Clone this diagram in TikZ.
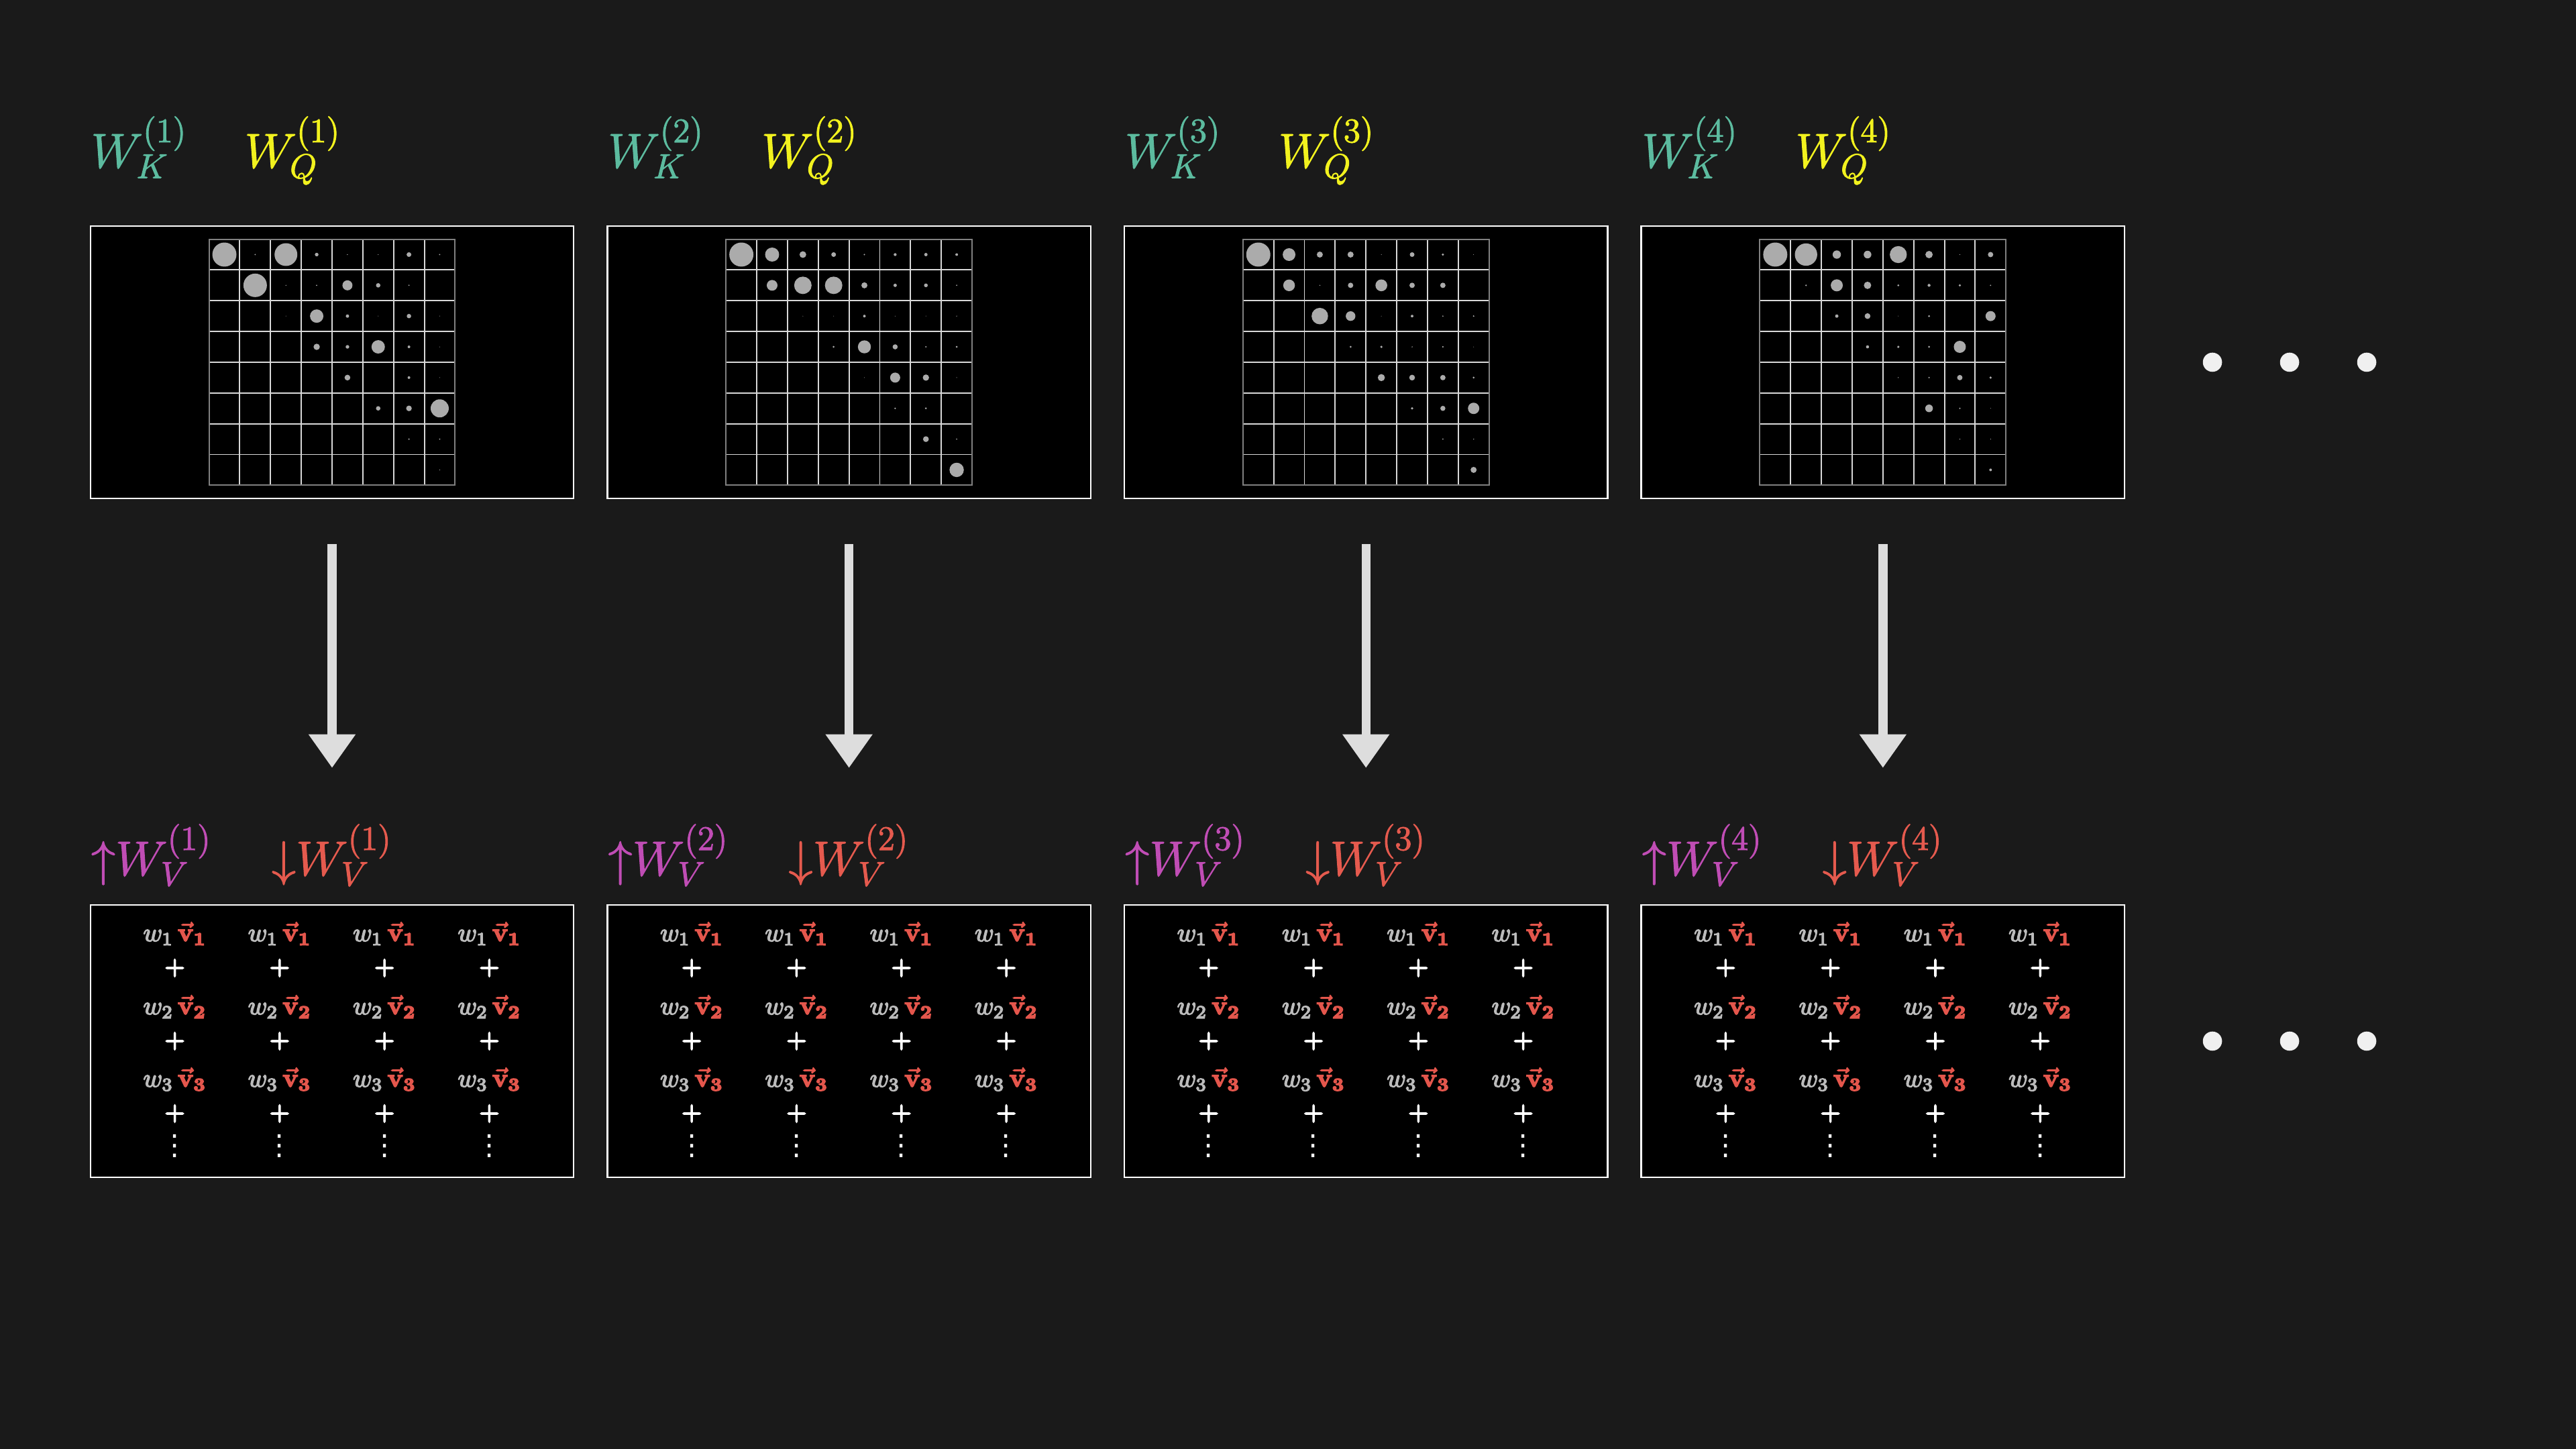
\RequirePackage{fix-cm}
\documentclass[tikz,border=0pt]{standalone}
\usepackage[no-math]{fontspec}
\newfontfamily\djv{DejaVu Sans}
\usetikzlibrary{arrows.meta}
\definecolor{bg}{HTML}{1A1A1A}
\definecolor{tealc}{HTML}{5CBB9F}
\definecolor{yellowc}{HTML}{F2F21E}
\definecolor{pinkc}{HTML}{C04DB5}
\definecolor{redc}{HTML}{E55A4E}
\definecolor{wgray}{HTML}{BBBBBB}
\definecolor{vred}{HTML}{E4564C}
\definecolor{gridlight}{HTML}{D8D8D8}
\definecolor{griddark}{HTML}{808080}
\definecolor{dotcol}{HTML}{ABABAB}
\definecolor{arrowcol}{HTML}{DDDDDD}
\definecolor{dotwhite}{HTML}{F0F0F0}
\newcommand\stk[2]{\special{pdf:code 2 Tr #1 w}#2\special{pdf:code 0 Tr}}
\tikzset{
  panel/.style={draw=white, fill=black, line width=0.7pt, minimum width=7.205cm, minimum height=4.06cm, inner sep=0pt},
  biglabel/.style={anchor=base west, inner sep=0pt, font=\fontsize{20.8}{25}\selectfont},
  wterm/.style={anchor=base, inner sep=0pt, font=\fontsize{11}{13}\selectfont},
  plusterm/.style={anchor=center, inner sep=0pt, text=white, font=\fontsize{9.5}{11}\selectfont\boldmath},
  vdterm/.style={anchor=center, inner sep=0pt, text=white, font=\djv\fontsize{12}{14}\selectfont},
  gridin/.style={draw=gridlight, line width=0.55pt},
  gridout/.style={draw=griddark, line width=0.6pt},
  bigarrow/.style={draw=arrowcol, line width=3.8pt, -{Triangle[width=6.67mm,length=5mm]}, shorten <=6.7mm, shorten >=20.3mm},
  moredot/.style={fill=dotwhite}
}
\newcommand\mydotgrid[2]{%
  \begin{scope}[shift={(#1.center)}]
    \foreach \t in {1,...,7}{
      \draw[gridin] ({-1.834+\t*0.4585},-1.834) -- ++(0,3.668);
      \draw[gridin] (-1.834,{-1.834+\t*0.4585}) -- ++(3.668,0);
    }
    \draw[gridout] (-1.834,-1.834) rectangle (1.834,1.834);
    \foreach \c/\r/\rad in {#2}{
      \fill[dotcol] ({(\c-4.5)*0.4585},{(4.5-\r)*0.4585}) circle[radius={\rad*0.01}];
    }
  \end{scope}}
\begin{document}
\begin{tikzpicture}
\fill[bg] (0,0) rectangle (38.4,21.6);
\useasboundingbox (0,0) rectangle (38.4,21.6);

\foreach \i in {1,...,4}{
  \pgfmathsetmacro\cx{4.95+(\i-1)*7.706}
  \node[panel] (k\i) at (\cx,16.2) {};
  \node[panel] (v\i) at (\cx,6.08) {};
  \node[biglabel, text=tealc] (lk\i) at ({\cx-3.6},19.10) {\stk{0.3}{$W_K^{(\i)}$}};
  \node[biglabel, text=yellowc] (lq\i) at ({\cx-3.6+2.29},19.10) {\stk{0.3}{$W_Q^{(\i)}$}};
  \node[biglabel, text=pinkc] (lu\i) at ({\cx-3.6},8.55) {\stk{0.3}{$\mathord{\uparrow}W_V^{(\i)}$}};
  \node[biglabel, text=redc] (ld\i) at ({\cx-3.6+2.69},8.55) {\stk{0.3}{$\mathord{\downarrow}W_V^{(\i)}$}};
  \draw[bigarrow] (k\i) -- (v\i);
  \foreach \j in {1,...,4}{
    \pgfmathsetmacro\px{\cx+(\j-2.5)*1.563}
    \node[wterm] (wa-\i-\j) at (\px,7.57) {\stk{0.45}{$\color{wgray}w_1\,\color{vred}\vec{\mathbf{v}}_{\mathbf{1}}$}};
    \node[plusterm] (pa-\i-\j) at (\px,7.17) {\stk{0.4}{$+$}};
    \node[wterm] (wb-\i-\j) at (\px,6.48) {\stk{0.45}{$\color{wgray}w_2\,\color{vred}\vec{\mathbf{v}}_{\mathbf{2}}$}};
    \node[plusterm] (pb-\i-\j) at (\px,6.08) {\stk{0.4}{$+$}};
    \node[wterm] (wc-\i-\j) at (\px,5.40) {\stk{0.45}{$\color{wgray}w_3\,\color{vred}\vec{\mathbf{v}}_{\mathbf{3}}$}};
    \node[plusterm] (pc-\i-\j) at (\px,5.00) {\stk{0.4}{$+$}};
    \node[vdterm] (vd-\i-\j) at (\px,4.52) {⋮};
  }
}

\mydotgrid{k1}{1/1/18, 2/1/1, 3/1/17, 4/1/2.7, 5/1/0.7, 6/1/0.7, 7/1/3.5, 8/1/1,
  2/2/17.5, 3/2/0.7, 4/2/1, 5/2/7.5, 6/2/3.3, 7/2/1,
  3/3/0.5, 4/3/10, 5/3/2.5, 6/3/0.5, 7/3/3.3, 8/3/0.5,
  4/4/4.7, 5/4/2.7, 6/4/10, 7/4/2, 8/4/0.5,
  5/5/4.3, 7/5/2, 8/5/0.5,
  6/6/3.3, 7/6/4.2, 8/6/13.5,
  7/7/1.2, 8/7/1,
  8/8/0.6}
\mydotgrid{k2}{1/1/18, 2/1/10.5, 3/1/5, 4/1/3.5, 5/1/1.2, 6/1/2.2, 7/1/2.5, 8/1/2,
  2/2/8, 3/2/13, 4/2/13, 5/2/4.5, 6/2/2.5, 7/2/2.8, 8/2/1,
  3/3/0.5, 4/3/0.5, 5/3/2, 6/3/0.5, 7/3/0.5, 8/3/0.7,
  4/4/1.5, 5/4/9.7, 6/4/3.8, 7/4/1.2, 8/4/1.5,
  5/5/0.5, 6/5/7.5, 7/5/4.7, 8/5/0.6,
  6/6/1.2, 7/6/1.5,
  7/7/4.3, 8/7/1,
  8/8/10.7}
\mydotgrid{k3}{1/1/18, 2/1/9.5, 3/1/4.5, 4/1/4.5, 5/1/0.6, 6/1/3.5, 7/1/1.8, 8/1/0.5,
  2/2/8.7, 3/2/0.8, 4/2/4, 5/2/8.8, 6/2/4, 7/2/4,
  3/3/12.3, 4/3/7.2, 5/3/0.5, 6/3/2, 7/3/1, 8/3/1.2,
  4/4/1.5, 5/4/1.8, 6/4/0.8, 7/4/1.2, 8/4/0.5,
  5/5/5.3, 6/5/4.3, 7/5/4, 8/5/1.5,
  6/6/1.8, 7/6/3.8, 8/6/8.5,
  7/7/1, 8/7/0.8,
  8/8/4.5}
\mydotgrid{k4}{1/1/18, 2/1/16.7, 3/1/6.2, 4/1/5.7, 5/1/12.7, 6/1/5.5, 7/1/0.6, 8/1/4,
  2/2/1.2, 3/2/9, 4/2/5.5, 5/2/1.5, 6/2/2.2, 7/2/1.8, 8/2/1,
  3/3/2.5, 4/3/4.3, 5/3/0.5, 6/3/1.5, 8/3/7.5,
  4/4/2.3, 5/4/1.8, 6/4/1.5, 7/4/9,
  5/5/0.7, 6/5/1.2, 7/5/4, 8/5/1.8,
  6/6/5.7, 7/6/1.2, 8/6/0.5,
  7/7/0.8, 8/7/0.6,
  8/8/2}

\foreach \yy in {16.2,6.08}{
  \foreach \xx in {32.98,34.13,35.28}{
    \fill[moredot] (\xx,\yy) circle[radius=0.143];
  }
}
\end{tikzpicture}
\end{document}
